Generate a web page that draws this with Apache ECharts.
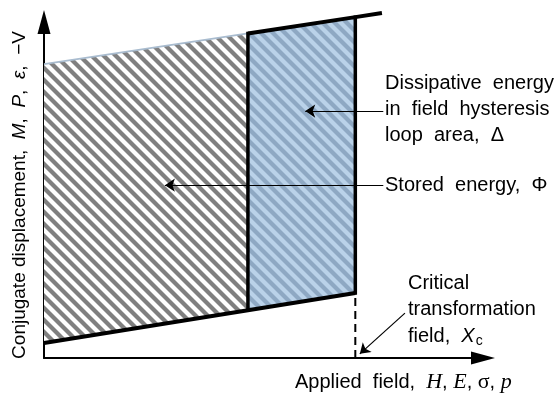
<!DOCTYPE html>
<html><head><meta charset="utf-8">
<script src="https://cdn.jsdelivr.net/npm/echarts@6/dist/echarts.min.js"></script>
<style>html,body{margin:0;padding:0;background:#fff}#c{width:557px;height:395px}</style>
</head><body><div id="c"></div>
<script>
// Field positions (applied field axis, arbitrary units): origin, end of stored region, critical field Xc, end of upper curve
const fieldX = [0, 4.52, 6.9, 7.49];
// Lower boundary curve (conjugate displacement) at fieldX[0..2]
const lowerY = [0.43, 1.37, 1.87];
// Upper boundary curve at fieldX[0..3]
const upperY = [8.45, 9.33, 9.80, 9.92];
// Axis extents (arrow bases)
const xMax = 9.73;
const yMax = 9.66;
// Annotation arrows (from label to target), in axis units
const arrowFrom = [[7.52, 7.10], [7.52, 4.97], [8.0, 1.29]];
const arrowTo   = [[5.79, 7.10], [2.68, 4.97], [7.0, 0.12]];
// Texts
const yTitle = 'Conjugate displacement,  {i|M},  {i|P},  {i|ε},  −V';
const xTitle = 'Applied  field,  {it|H}, {it|E}, {gr|σ}, {it|p}';
const labelDissipative = 'Dissipative  energy\nin  field  hysteresis\nloop  area,  Δ';
const labelStored = 'Stored  energy,  Φ';
const labelCritical = 'Critical\ntransformation\nfield,  {i|X}{s|c}';

function stripes(bg, fg, T, w) {
  const c = document.createElement('canvas');
  c.width = c.height = T;
  const g = c.getContext('2d');
  g.fillStyle = bg; g.fillRect(0, 0, T, T);
  g.strokeStyle = fg; g.lineWidth = w;
  for (let k = -2; k <= 2; k++) {
    g.beginPath();
    g.moveTo(k * T - T, -T);
    g.lineTo(k * T + 2 * T, 2 * T);
    g.stroke();
  }
  return { image: c, repeat: 'repeat' };
}
const grayHatch = stripes('#ffffff', '#808080', 12, 4.2);
const blueHatch = stripes('#bad2e9', '#8ea8c3', 12, 4.2);

const regions = [[0, 1], [1, 2]]; // index pairs into fieldX/lowerY/upperY

const chart = echarts.init(document.getElementById('c'), null, { renderer: 'canvas' });
const FONT = '"Liberation Sans", Arial, sans-serif';
const SERIF = '"Liberation Serif", "Times New Roman", serif';

chart.setOption({
  animation: false,
  backgroundColor: '#fff',
  grid: { left: 44, right: 74, top: 22, bottom: 37 },
  xAxis: {
    type: 'value', min: 0, max: xMax,
    axisLine: { show: true, symbol: ['none', 'triangle'], symbolSize: [13, 24],
      lineStyle: { color: '#000', width: 2 } },
    axisTick: { show: false }, axisLabel: { show: false }, splitLine: { show: false }
  },
  yAxis: {
    type: 'value', min: 0, max: yMax,
    axisLine: { show: true, onZero: false, symbol: ['none', 'triangle'], symbolSize: [13, 24],
      lineStyle: { color: '#000', width: 2 } },
    axisTick: { show: false }, axisLabel: { show: false }, splitLine: { show: false },
    name: yTitle, nameLocation: 'middle', nameGap: 15, nameRotate: 90,
    nameTextStyle: {
      fontFamily: FONT, fontSize: 19, color: '#000', padding: [0, 10, 0, 0],
      rich: { i: { fontFamily: FONT, fontSize: 19, fontStyle: 'italic', color: '#000' } }
    }
  },
  series: [
    {
      type: 'custom', z: 1, clip: false,
      data: regions,
      renderItem: function (params, api) {
        const r = regions[params.dataIndex];
        const a = r[0], b = r[1];
        const pts = [
          api.coord([fieldX[a], lowerY[a]]),
          api.coord([fieldX[b], lowerY[b]]),
          api.coord([fieldX[b], upperY[b]]),
          api.coord([fieldX[a], upperY[a]])
        ];
        return { type: 'polygon', shape: { points: pts },
          style: { fill: params.dataIndex === 0 ? grayHatch : blueHatch, stroke: null } };
      }
    },
    { // thin upper edge of stored-energy region
      type: 'line', z: 3, showSymbol: false, silent: true, clip: false,
      data: [[fieldX[0], upperY[0]], [fieldX[1], upperY[1]]],
      lineStyle: { color: '#a9bccf', width: 1.8 }
    },
    { // lower curve
      type: 'line', z: 4, showSymbol: false, silent: true, clip: false,
      data: [[fieldX[0], lowerY[0]], [fieldX[1], lowerY[1]], [fieldX[2], lowerY[2]]],
      lineStyle: { color: '#000', width: 4, cap: 'butt', join: 'miter' }
    },
    { // upper curve (thick)
      type: 'line', z: 4, showSymbol: false, silent: true, clip: false,
      data: [[fieldX[1], upperY[1]], [fieldX[2], upperY[2]], [fieldX[3], upperY[3]]],
      lineStyle: { color: '#000', width: 4, cap: 'butt', join: 'miter' }
    },
    { // vertical boundary at fieldX[1]
      type: 'line', z: 4, showSymbol: false, silent: true, clip: false,
      data: [[fieldX[1], lowerY[1]], [fieldX[1], upperY[1]]],
      lineStyle: { color: '#000', width: 3.5, cap: 'square' }
    },
    { // vertical boundary at critical field
      type: 'line', z: 4, showSymbol: false, silent: true, clip: false,
      data: [[fieldX[2], lowerY[2]], [fieldX[2], upperY[2]]],
      lineStyle: { color: '#000', width: 3.5, cap: 'square' }
    },
    { // dashed drop to Xc
      type: 'line', z: 4, showSymbol: false, silent: true, clip: false,
      data: [[fieldX[2], 0], [fieldX[2], lowerY[2]]],
      lineStyle: { color: '#000', width: 2, type: [8, 5] }
    },
    {
      type: 'lines', coordinateSystem: 'cartesian2d', z: 6, silent: true,
      symbol: ['none', 'arrow'], symbolSize: 10,
      lineStyle: { color: '#000', width: 1.2, opacity: 1, curveness: 0 },
      data: arrowFrom.map((f, i) => ({ coords: [f, arrowTo[i]] }))
    }
  ],
  graphic: [
    { type: 'text', left: 385, top: 70, z: 10,
      style: { text: labelDissipative, font: '20px ' + FONT, lineHeight: 26, fill: '#000' } },
    { type: 'text', left: 385, top: 172, z: 10,
      style: { text: labelStored, font: '20px ' + FONT, lineHeight: 26, fill: '#000' } },
    { type: 'text', left: 408, top: 270, z: 10,
      style: { text: labelCritical, font: '20px ' + FONT, lineHeight: 26.5, fill: '#000',
        rich: { i: { fontStyle: 'italic', fontSize: 20, fontFamily: FONT, lineHeight: 26.5 },
                s: { fontSize: 14, fontFamily: FONT, padding: [9, 0, 0, 1], lineHeight: 26.5 } } } },
    { type: 'text', left: 295, top: 369, z: 10,
      style: { text: xTitle, font: '20px ' + FONT, lineHeight: 26, fill: '#000',
        rich: { it: { fontStyle: 'italic', fontFamily: SERIF, fontSize: 22, lineHeight: 26 },
                gr: { fontFamily: SERIF, fontSize: 22, lineHeight: 26 } } } }
  ]
});
</script></body></html>
